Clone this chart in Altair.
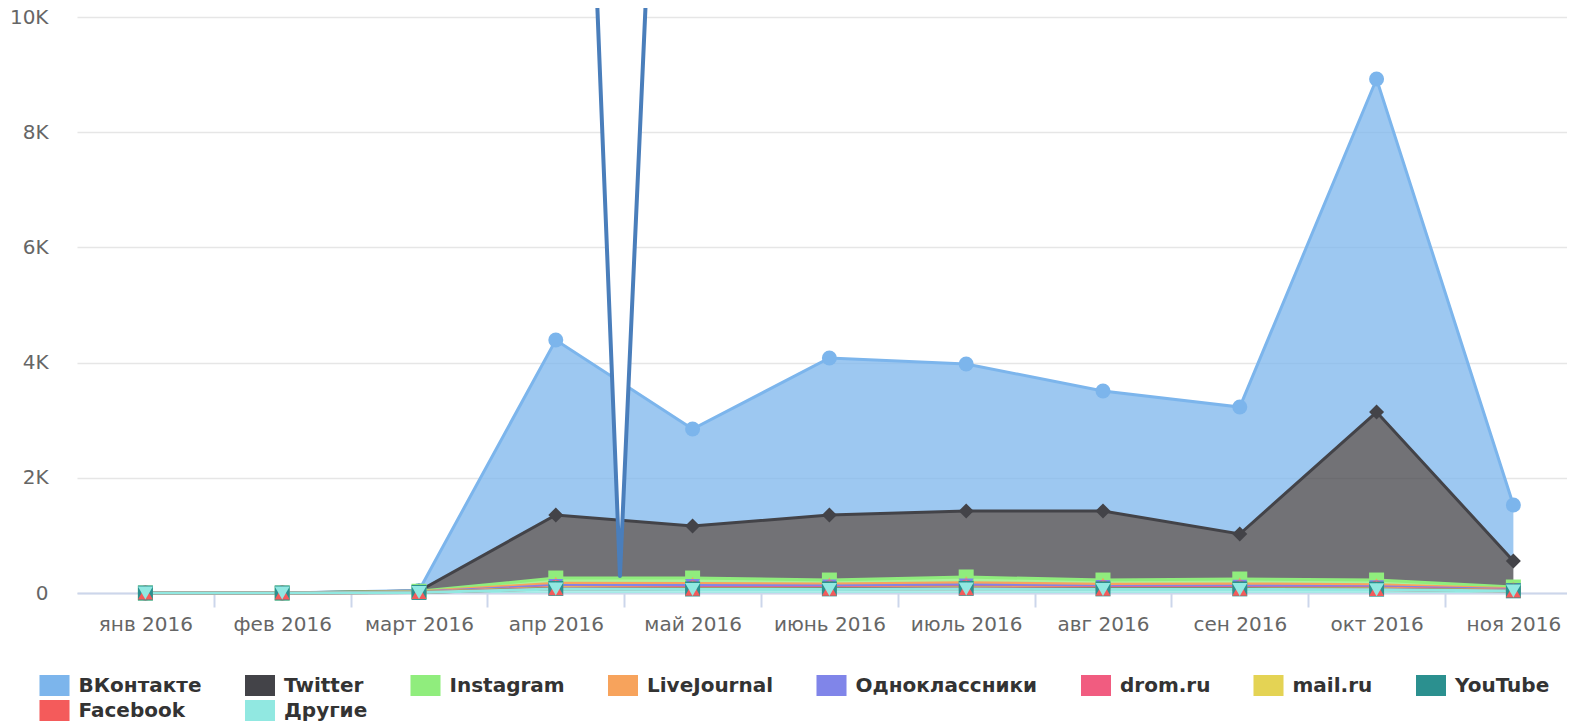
import json
import altair as alt
import pandas as pd

months = ["янв 2016", "фев 2016", "март 2016", "апр 2016", "май 2016", "июнь 2016",
          "июль 2016", "авг 2016", "сен 2016", "окт 2016", "ноя 2016"]

series = ["ВКонтакте", "Twitter", "Instagram", "LiveJournal", "Одноклассники",
          "drom.ru", "mail.ru", "YouTube", "Facebook", "Другие"]
colors = ["#7cb5ec", "#434348", "#90ed7d", "#f7a35c", "#8085e9",
          "#f15c80", "#e4d354", "#2b908f", "#f45b5b", "#91e8e1"]
shapes = ["circle", "diamond", "square", "triangle-up", "triangle-down",
          "circle", "diamond", "square", "triangle-up", "triangle-down"]

vk = [0, 0, 10, 3038, 1684, 2726, 2552, 2083, 2205, 5782, 972]
twitter = [0, 0, 5, 1094, 903, 1129, 1146, 1199, 781, 2917, 452]
instagram = [0, 0, 8, 90, 95, 70, 100, 75, 85, 80, 30]
livejournal = [0, 0, 5, 40, 35, 35, 40, 35, 40, 35, 15]
odnoklassniki = [0, 0, 3, 30, 40, 30, 35, 25, 28, 25, 12]
drom = [0, 0, 2, 10, 10, 10, 12, 10, 10, 10, 5]
mailru = [0, 0, 2, 10, 10, 8, 10, 8, 8, 8, 4]
youtube = [0, 0, 1, 5, 5, 5, 6, 5, 5, 5, 3]
facebook = [0, 0, 1, 5, 5, 5, 5, 5, 5, 5, 2]
drugie = [0, 0, 8, 70, 60, 62, 70, 62, 62, 57, 33]

values = [vk, twitter, instagram, livejournal, odnoklassniki,
          drom, mailru, youtube, facebook, drugie]

y_ticks = [0, 2000, 4000, 6000, 8000, 10000]

# callout arrow (annotation) in data units: x positions, lower and upper edge
ann_x = [3.30, 3.469, 3.66]
ann_y_low = [10400, 295, 10400]
ann_y_high = [10400, 10400, 10400]

# ---- build stacked table (first series on top, last at bottom)
rows = []
n = len(months)
tops = [[0] * n for _ in series]
bots = [[0] * n for _ in series]
for m in range(n):
    running = 0
    for si in reversed(range(len(series))):
        bots[si][m] = running
        running += values[si][m]
        tops[si][m] = running
for si, s in enumerate(series):
    for m in range(n):
        rows.append({"month": m, "series": s, "marker": shapes[si],
                     "value": values[si][m],
                     "top": tops[si][m], "bot": bots[si][m]})
df = pd.DataFrame(rows)

ann = pd.DataFrame({"ax": ann_x, "ylo": ann_y_low, "yhi": ann_y_high})

FONT = "DejaVu Sans"

x_values = [i for i in range(n)] + [i + 0.5 for i in range(n - 1)]
label_expr = ("datum.value % 1 === 0 ? " + json.dumps(months, ensure_ascii=False)
              + "[datum.value] : ''")

x_scale = alt.Scale(domain=[-0.5, 10.392], nice=False, zero=False)
y_scale = alt.Scale(domain=[0, 10000], nice=False)

x_axis = alt.Axis(title=None, values=x_values, labelExpr=label_expr, grid=False,
                  labelOverlap=False, labelFlush=False,
                  tickSize=14, tickWidth=2,
                  tickColor={"condition": {"test": "datum.value % 1 === 0",
                                           "value": "transparent"},
                             "value": "#ccd6eb"},
                  domainColor="#ccd6eb", domainWidth=2,
                  labelFont=FONT, labelFontSize=20, labelColor="#666666",
                  labelPadding=7)
y_axis = alt.Axis(title=None, values=y_ticks,
                  labelExpr="datum.value == 0 ? '0' : (datum.value / 1000) + 'K'",
                  grid=True, gridColor="#e6e6e6", gridWidth=1.5,
                  domain=False, ticks=False, labelPadding=29,
                  labelFont=FONT, labelFontSize=20, labelColor="#666666")

legend = alt.Legend(
    title=None, orient="none", legendX=-33, legendY=658, direction="horizontal",
    columns=8, symbolType="M-1.43,-1H1.43V1H-1.43Z", symbolSize=441,
    symbolOpacity=1, symbolStrokeWidth=0, labelOffset=13.5,
    columnPadding=42.5, rowPadding=4, labelFont=FONT, labelFontSize=20,
    labelFontWeight="bold", labelColor="#333333", labelLimit=400,
)

color = alt.Color("series:N", scale=alt.Scale(domain=series, range=colors),
                  legend=legend, sort=series)

X = alt.X("month:Q", scale=x_scale, axis=x_axis)
Y = alt.Y("top:Q", scale=y_scale, axis=y_axis)

area = alt.Chart(df).mark_area(fillOpacity=0.75, interpolate="linear").encode(
    x=X, y=Y, y2="bot:Q", color=color,
)

line = alt.Chart(df).mark_line(strokeWidth=3).encode(
    x=X, y=Y, color=color,
)

points = alt.Chart(df).mark_point(filled=True, opacity=1, size=225).encode(
    x=X, y=Y, color=color,
    shape=alt.Shape("marker:N", scale=None),
)

AX = alt.X("ax:Q", scale=x_scale, axis=x_axis)
AY = alt.Y("ylo:Q", scale=y_scale, axis=y_axis)

arrow_fill = alt.Chart(ann).mark_area(fillOpacity=1, interpolate="linear").encode(
    x=AX, y=AY, y2="yhi:Q", fill=alt.value("#ffffff"),
)

arrow_edge = alt.Chart(ann).mark_line(
    color="#4a7ebb", strokeWidth=4, strokeJoin="round"
).encode(x=AX, y=AY)

chart = alt.layer(area, line, points, arrow_fill, arrow_edge).properties(
    width=1490, height=576,
    autosize=alt.AutoSizeParams(type="none"),
    padding={"left": 69, "top": 9, "right": 0, "bottom": 128},
    background="white",
).configure_view(stroke=None)

chart.save("out.html", embed_options={"renderer": "svg", "actions": False})
